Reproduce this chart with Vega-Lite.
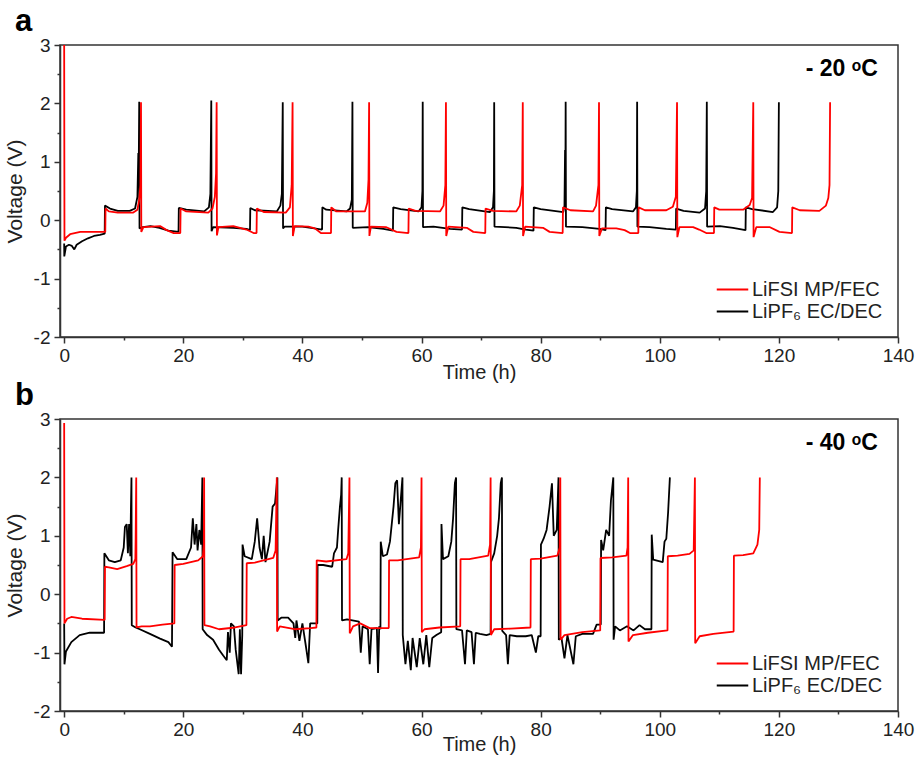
{
  "$schema": "https://vega.github.io/schema/vega-lite/v6.json",
  "padding": {"left": 3, "top": 5, "right": 5, "bottom": 2},
  "config": {
    "font": "Liberation Sans",
    "view": {"stroke": "#333", "strokeWidth": 1.5},
    "axis": {"grid": false, "domainColor": "#333", "domainWidth": 1.5, "tickColor": "#333", "tickWidth": 1.5, "labelColor": "#222", "titleColor": "#222", "labelFontSize": 19, "titleFontSize": 20, "titleFontWeight": "normal"},
    "legend": {"labelFontSize": 20, "labelColor": "#222"}
  },
  "datasets": {
    "aK": [{"t":0,"v":-0.4},{"t":0.02,"v":-0.62},{"t":0.3,"v":-0.45},{"t":0.8,"v":-0.42},{"t":1.3,"v":-0.44},{"t":1.7,"v":-0.5},{"t":2.1,"v":-0.42},{"t":3.0,"v":-0.36},{"t":4.0,"v":-0.31},{"t":5.0,"v":-0.27},{"t":6.0,"v":-0.25},{"t":6.8,"v":-0.23},
      {"t":6.85,"v":0.25},{"t":7.7,"v":0.2},{"t":9.0,"v":0.16},{"t":11.0,"v":0.16},{"t":11.9,"v":0.2},{"t":12.3,"v":0.4},{"t":12.45,"v":1.15},{"t":12.5,"v":0.6},{"t":12.6,"v":2.03},
      {"t":12.65,"v":-0.14},{"t":13.2,"v":-0.12},{"t":14.5,"v":-0.1},{"t":16.0,"v":-0.13},{"t":17.5,"v":-0.18},{"t":19.2,"v":-0.2},
      {"t":19.25,"v":0.21},{"t":20.5,"v":0.18},{"t":23.5,"v":0.15},{"t":24.3,"v":0.22},{"t":24.55,"v":0.45},{"t":24.7,"v":2.05},
      {"t":24.75,"v":-0.19},{"t":25.0,"v":-0.12},{"t":28.4,"v":-0.13},{"t":30.6,"v":-0.15},{"t":31.2,"v":-0.17},
      {"t":31.25,"v":0.21},{"t":32.0,"v":0.17},{"t":35.7,"v":0.15},{"t":36.3,"v":0.25},{"t":36.55,"v":0.45},{"t":36.7,"v":2.02},
      {"t":36.75,"v":-0.14},{"t":37.0,"v":-0.11},{"t":40.0,"v":-0.11},{"t":42.0,"v":-0.14},{"t":43.3,"v":-0.16},
      {"t":43.35,"v":0.22},{"t":44.0,"v":0.18},{"t":47.4,"v":0.15},{"t":48.0,"v":0.2},{"t":48.3,"v":0.35},{"t":48.4,"v":2.03},
      {"t":48.45,"v":-0.13},{"t":51.0,"v":-0.12},{"t":53.6,"v":-0.15},{"t":55.2,"v":-0.18},
      {"t":55.25,"v":0.22},{"t":56.5,"v":0.19},{"t":59.5,"v":0.15},{"t":60.0,"v":0.22},{"t":60.15,"v":0.5},{"t":60.2,"v":2.03},
      {"t":60.25,"v":-0.12},{"t":62.0,"v":-0.11},{"t":64.8,"v":-0.15},{"t":66.8,"v":-0.16},
      {"t":66.85,"v":0.22},{"t":68.0,"v":0.19},{"t":71.5,"v":0.14},{"t":72.0,"v":0.22},{"t":72.15,"v":0.5},{"t":72.2,"v":2.02},
      {"t":72.25,"v":-0.11},{"t":75.9,"v":-0.13},{"t":77.5,"v":-0.16},{"t":78.8,"v":-0.18},
      {"t":78.85,"v":0.22},{"t":80.0,"v":0.19},{"t":83.8,"v":0.14},{"t":84.0,"v":0.25},{"t":84.1,"v":1.2},{"t":84.15,"v":0.5},{"t":84.2,"v":2.03},
      {"t":84.25,"v":-0.11},{"t":87.0,"v":-0.12},{"t":89.9,"v":-0.15},{"t":90.9,"v":-0.17},
      {"t":90.95,"v":0.22},{"t":92.0,"v":0.19},{"t":95.5,"v":0.15},{"t":96.0,"v":0.22},{"t":96.15,"v":0.5},{"t":96.2,"v":2.03},
      {"t":96.25,"v":-0.11},{"t":98.3,"v":-0.12},{"t":101.1,"v":-0.15},{"t":102.7,"v":-0.16},
      {"t":102.75,"v":0.2},{"t":104.0,"v":0.16},{"t":106.7,"v":0.13},{"t":107.6,"v":0.2},{"t":107.8,"v":0.5},{"t":107.9,"v":2.03},
      {"t":107.95,"v":-0.11},{"t":110.1,"v":-0.1},{"t":112.3,"v":-0.13},{"t":114.4,"v":-0.17},
      {"t":114.45,"v":0.22},{"t":115.5,"v":0.19},{"t":119.0,"v":0.14},{"t":119.7,"v":0.22},{"t":119.9,"v":0.5},{"t":120.0,"v":2.02}],
    "aR": [{"t":0,"v":3.0},{"t":0.05,"v":-0.35},{"t":0.3,"v":-0.3},{"t":1.0,"v":-0.24},{"t":2.7,"v":-0.2},{"t":5.0,"v":-0.2},{"t":6.9,"v":-0.2},
      {"t":6.95,"v":0.2},{"t":7.5,"v":0.15},{"t":9.0,"v":0.13},{"t":11.6,"v":0.13},{"t":12.3,"v":0.18},{"t":12.6,"v":0.35},{"t":12.8,"v":0.6},{"t":12.9,"v":2.02},
      {"t":12.95,"v":-0.2},{"t":13.3,"v":-0.12},{"t":16.1,"v":-0.1},{"t":17.2,"v":-0.17},{"t":18.4,"v":-0.22},{"t":19.5,"v":-0.22},
      {"t":19.55,"v":0.2},{"t":20.5,"v":0.15},{"t":24.2,"v":0.13},{"t":24.9,"v":0.2},{"t":25.3,"v":0.4},{"t":25.5,"v":0.8},{"t":25.6,"v":2.02},
      {"t":25.65,"v":-0.26},{"t":25.9,"v":-0.12},{"t":28.4,"v":-0.1},{"t":30.6,"v":-0.16},{"t":31.8,"v":-0.22},{"t":32.3,"v":-0.22},
      {"t":32.35,"v":0.2},{"t":33.5,"v":0.14},{"t":37.2,"v":0.13},{"t":37.9,"v":0.22},{"t":38.2,"v":0.6},{"t":38.35,"v":2.02},
      {"t":38.4,"v":-0.27},{"t":38.7,"v":-0.1},{"t":41.0,"v":-0.11},{"t":42.1,"v":-0.14},{"t":43.1,"v":-0.22},{"t":44.8,"v":-0.22},
      {"t":44.85,"v":0.22},{"t":45.7,"v":0.15},{"t":50.5,"v":0.15},{"t":50.9,"v":0.3},{"t":51.1,"v":0.7},{"t":51.2,"v":2.02},
      {"t":51.25,"v":-0.27},{"t":51.5,"v":-0.11},{"t":54.1,"v":-0.12},{"t":55.8,"v":-0.2},{"t":57.8,"v":-0.22},
      {"t":57.85,"v":0.2},{"t":59.0,"v":0.16},{"t":63.1,"v":0.15},{"t":63.7,"v":0.25},{"t":64.0,"v":0.6},{"t":64.1,"v":2.02},
      {"t":64.15,"v":-0.27},{"t":64.5,"v":-0.11},{"t":67.6,"v":-0.13},{"t":68.7,"v":-0.2},{"t":70.7,"v":-0.22},
      {"t":70.75,"v":0.2},{"t":72.0,"v":0.16},{"t":75.9,"v":0.15},{"t":76.5,"v":0.25},{"t":76.9,"v":0.6},{"t":77.0,"v":2.02},
      {"t":77.05,"v":-0.27},{"t":77.4,"v":-0.11},{"t":80.4,"v":-0.13},{"t":81.5,"v":-0.2},{"t":83.7,"v":-0.22},
      {"t":83.75,"v":0.22},{"t":85.0,"v":0.17},{"t":88.8,"v":0.15},{"t":89.3,"v":0.25},{"t":89.7,"v":0.6},{"t":89.8,"v":2.02},
      {"t":89.85,"v":-0.27},{"t":90.3,"v":-0.14},{"t":92.7,"v":-0.14},{"t":94.1,"v":-0.17},{"t":95.0,"v":-0.22},{"t":96.4,"v":-0.22},
      {"t":96.45,"v":0.22},{"t":97.5,"v":0.17},{"t":101.1,"v":0.17},{"t":102.2,"v":0.23},{"t":102.7,"v":0.4},{"t":102.9,"v":2.02},
      {"t":102.95,"v":-0.29},{"t":103.3,"v":-0.12},{"t":105.6,"v":-0.12},{"t":106.6,"v":-0.16},{"t":107.8,"v":-0.22},{"t":109.1,"v":-0.22},
      {"t":109.15,"v":0.22},{"t":110.0,"v":0.18},{"t":114.0,"v":0.18},{"t":115.1,"v":0.26},{"t":115.5,"v":0.38},{"t":115.7,"v":2.02},
      {"t":115.75,"v":-0.29},{"t":116.2,"v":-0.12},{"t":118.5,"v":-0.12},{"t":120.1,"v":-0.2},{"t":122.2,"v":-0.22},
      {"t":122.25,"v":0.22},{"t":123.5,"v":0.17},{"t":126.8,"v":0.16},{"t":127.9,"v":0.25},{"t":128.3,"v":0.38},{"t":128.5,"v":0.6},{"t":128.6,"v":2.02}],
    "bR": [{"t":0,"v":2.93},{"t":0.05,"v":-0.5},{"t":0.5,"v":-0.42},{"t":1.2,"v":-0.39},{"t":3.0,"v":-0.42},{"t":6.8,"v":-0.44},
      {"t":6.85,"v":0.47},{"t":7.5,"v":0.46},{"t":8.9,"v":0.43},{"t":10.5,"v":0.48},{"t":11.6,"v":0.52},{"t":11.95,"v":0.6},{"t":12.0,"v":0.95},{"t":12.1,"v":2.0},
      {"t":12.15,"v":-0.57},{"t":13.0,"v":-0.55},{"t":14.4,"v":-0.55},{"t":16.5,"v":-0.52},{"t":18.5,"v":-0.5},
      {"t":18.55,"v":0.5},{"t":20.0,"v":0.52},{"t":22.5,"v":0.58},{"t":23.3,"v":0.65},{"t":23.45,"v":0.85},{"t":23.5,"v":2.0},
      {"t":23.55,"v":-0.53},{"t":24.5,"v":-0.55},{"t":26.0,"v":-0.6},{"t":28.7,"v":-0.57},{"t":30.6,"v":-0.53},
      {"t":30.65,"v":0.53},{"t":32.0,"v":0.54},{"t":35.1,"v":0.62},{"t":35.5,"v":0.75},{"t":35.7,"v":2.0},
      {"t":35.75,"v":-0.64},{"t":36.2,"v":-0.55},{"t":38.7,"v":-0.6},{"t":41.4,"v":-0.58},{"t":42.35,"v":-0.57},
      {"t":42.4,"v":0.58},{"t":44.0,"v":0.56},{"t":47.4,"v":0.6},{"t":47.7,"v":0.7},{"t":47.9,"v":2.0},
      {"t":47.95,"v":-0.67},{"t":48.5,"v":-0.55},{"t":49.7,"v":-0.5},{"t":51.3,"v":-0.58},{"t":54.5,"v":-0.58},
      {"t":54.55,"v":0.58},{"t":56.0,"v":0.58},{"t":59.6,"v":0.63},{"t":59.9,"v":0.8},{"t":60.0,"v":2.0},
      {"t":60.05,"v":-0.65},{"t":60.5,"v":-0.6},{"t":63.0,"v":-0.57},{"t":66.5,"v":-0.55},
      {"t":66.55,"v":0.6},{"t":68.0,"v":0.6},{"t":71.2,"v":0.66},{"t":71.5,"v":0.85},{"t":71.6,"v":2.0},
      {"t":71.65,"v":-0.7},{"t":72.2,"v":-0.6},{"t":75.0,"v":-0.59},{"t":78.3,"v":-0.57},
      {"t":78.35,"v":0.6},{"t":80.0,"v":0.61},{"t":82.8,"v":0.66},{"t":83.2,"v":0.8},{"t":83.3,"v":2.0},
      {"t":83.35,"v":-0.78},{"t":84.0,"v":-0.7},{"t":87.0,"v":-0.65},{"t":90.0,"v":-0.62},
      {"t":90.05,"v":0.62},{"t":92.0,"v":0.63},{"t":94.4,"v":0.66},{"t":94.6,"v":0.8},{"t":94.7,"v":2.0},
      {"t":94.75,"v":-0.81},{"t":95.5,"v":-0.7},{"t":98.0,"v":-0.66},{"t":101.3,"v":-0.62},
      {"t":101.35,"v":0.65},{"t":103.0,"v":0.66},{"t":105.0,"v":0.69},{"t":105.7,"v":0.75},{"t":105.9,"v":2.0},
      {"t":105.95,"v":-0.84},{"t":106.7,"v":-0.72},{"t":109.0,"v":-0.68},{"t":112.4,"v":-0.64},
      {"t":112.45,"v":0.66},{"t":114.0,"v":0.67},{"t":115.7,"v":0.7},{"t":116.4,"v":0.85},{"t":116.7,"v":1.1},{"t":116.8,"v":2.0}],
    "bK": [{"t":0,"v":-0.5},{"t":0.05,"v":-1.2},{"t":0.3,"v":-0.98},{"t":1.2,"v":-0.82},{"t":2.6,"v":-0.7},{"t":4.3,"v":-0.66},{"t":6.7,"v":-0.66},
      {"t":6.75,"v":0.7},{"t":7.5,"v":0.58},{"t":8.5,"v":0.55},{"t":9.5,"v":0.58},{"t":10.0,"v":0.8},{"t":10.2,"v":1.15},{"t":10.5,"v":1.2},{"t":10.7,"v":0.7},{"t":10.9,"v":1.2},{"t":11.0,"v":1.05},{"t":11.1,"v":0.65},{"t":11.2,"v":1.4},{"t":11.3,"v":2.0},
      {"t":11.35,"v":-0.53},{"t":12.0,"v":-0.57},{"t":12.7,"v":-0.6},{"t":14.4,"v":-0.68},{"t":16.1,"v":-0.76},{"t":17.5,"v":-0.82},{"t":18.1,"v":-0.9},
      {"t":18.2,"v":0.72},{"t":19.0,"v":0.6},{"t":20.5,"v":0.6},{"t":21.3,"v":0.8},{"t":21.6,"v":1.3},{"t":21.9,"v":0.85},{"t":22.2,"v":1.2},{"t":22.4,"v":0.75},{"t":22.7,"v":1.1},{"t":23.0,"v":0.85},{"t":23.2,"v":2.0},
      {"t":23.25,"v":-0.6},{"t":24.0,"v":-0.7},{"t":25.0,"v":-0.78},{"t":26.0,"v":-0.95},{"t":26.7,"v":-1.05},{"t":27.3,"v":-1.13},{"t":27.5,"v":-0.65},{"t":27.8,"v":-1.0},{"t":28.0,"v":-0.5},{"t":28.5,"v":-0.55},{"t":28.8,"v":-0.95},{"t":29.3,"v":-1.37},{"t":29.5,"v":-0.6},{"t":29.7,"v":-1.37},{"t":29.9,"v":-0.7},
      {"t":29.95,"v":0.85},{"t":30.3,"v":0.65},{"t":31.5,"v":0.6},{"t":32.0,"v":0.9},{"t":32.4,"v":1.3},{"t":32.8,"v":0.8},{"t":33.2,"v":0.6},{"t":33.5,"v":1.0},{"t":33.8,"v":0.55},{"t":34.5,"v":0.9},{"t":35.0,"v":1.5},{"t":35.4,"v":1.55},{"t":35.8,"v":2.0},
      {"t":35.85,"v":-0.45},{"t":36.5,"v":-0.4},{"t":37.6,"v":-0.4},{"t":38.5,"v":-0.5},{"t":38.8,"v":-0.75},{"t":39.0,"v":-0.45},{"t":39.5,"v":-0.8},{"t":40.0,"v":-0.5},{"t":40.6,"v":-0.9},{"t":41.0,"v":-1.18},{"t":41.3,"v":-0.5},{"t":42.5,"v":-0.5},
      {"t":42.55,"v":0.5},{"t":43.5,"v":0.5},{"t":45.0,"v":0.47},{"t":45.3,"v":0.7},{"t":45.8,"v":0.8},{"t":46.0,"v":1.1},{"t":46.3,"v":1.5},{"t":46.5,"v":1.7},{"t":46.6,"v":2.0},
      {"t":46.65,"v":-0.45},{"t":47.5,"v":-0.43},{"t":49.5,"v":-0.47},{"t":49.8,"v":-1.0},{"t":50.1,"v":-0.55},{"t":51.0,"v":-0.6},{"t":51.3,"v":-1.2},{"t":51.6,"v":-0.6},{"t":52.5,"v":-0.58},{"t":52.7,"v":-1.35},{"t":52.9,"v":-0.55},{"t":53.1,"v":-0.6},
      {"t":53.15,"v":0.9},{"t":53.5,"v":0.65},{"t":54.2,"v":0.68},{"t":54.7,"v":0.9},{"t":55.0,"v":1.2},{"t":55.3,"v":1.5},{"t":55.6,"v":1.9},{"t":55.9,"v":1.95},{"t":56.2,"v":1.2},{"t":56.5,"v":1.6},{"t":56.8,"v":2.0},
      {"t":56.85,"v":-0.7},{"t":57.3,"v":-1.2},{"t":57.7,"v":-0.8},{"t":58.2,"v":-1.3},{"t":58.5,"v":-0.75},{"t":59.2,"v":-1.25},{"t":59.7,"v":-0.75},{"t":60.3,"v":-1.2},{"t":60.8,"v":-0.7},{"t":61.3,"v":-1.25},{"t":61.8,"v":-0.75},{"t":62.5,"v":-0.7},{"t":63.3,"v":-0.65},
      {"t":63.35,"v":1.2},{"t":63.6,"v":0.6},{"t":64.5,"v":0.65},{"t":65.0,"v":0.9},{"t":65.3,"v":1.3},{"t":65.6,"v":1.9},{"t":65.8,"v":2.0},
      {"t":65.85,"v":-0.6},{"t":66.8,"v":-0.62},{"t":67.3,"v":-1.2},{"t":67.6,"v":-0.62},{"t":68.4,"v":-0.65},{"t":68.8,"v":-1.2},{"t":69.1,"v":-0.66},{"t":69.8,"v":-0.68},{"t":70.9,"v":-0.7},{"t":71.6,"v":-0.68},
      {"t":71.65,"v":0.55},{"t":72.2,"v":0.7},{"t":72.7,"v":1.0},{"t":73.0,"v":1.3},{"t":73.3,"v":1.9},{"t":73.5,"v":2.0},
      {"t":73.55,"v":-0.63},{"t":74.2,"v":-0.7},{"t":74.5,"v":-1.2},{"t":74.8,"v":-0.7},{"t":76.0,"v":-0.72},{"t":77.5,"v":-0.72},{"t":78.5,"v":-0.7},{"t":79.2,"v":-1.0},{"t":79.6,"v":-0.72},{"t":80.0,"v":-0.72},
      {"t":80.05,"v":0.85},{"t":80.5,"v":0.95},{"t":81.0,"v":1.1},{"t":81.5,"v":1.5},{"t":81.9,"v":1.9},{"t":82.2,"v":1.0},{"t":82.7,"v":1.1},{"t":83.0,"v":2.0},
      {"t":83.05,"v":-0.78},{"t":83.5,"v":-0.75},{"t":84.0,"v":-1.1},{"t":84.5,"v":-0.7},{"t":85.5,"v":-1.2},{"t":85.9,"v":-0.72},{"t":87.0,"v":-0.68},{"t":88.8,"v":-0.68},{"t":89.4,"v":-0.52},{"t":90.1,"v":-0.52},
      {"t":90.15,"v":0.93},{"t":90.5,"v":0.75},{"t":91.0,"v":1.1},{"t":91.5,"v":1.0},{"t":91.8,"v":1.6},{"t":92.2,"v":2.0},
      {"t":92.25,"v":-0.78},{"t":92.5,"v":-0.55},{"t":93.3,"v":-0.62},{"t":94.5,"v":-0.55},{"t":95.6,"v":-0.62},{"t":96.6,"v":-0.53},{"t":97.5,"v":-0.6},{"t":98.6,"v":-0.6},
      {"t":98.65,"v":1.02},{"t":98.9,"v":0.59},{"t":100.5,"v":0.55},{"t":100.8,"v":0.9},{"t":101.1,"v":0.95},{"t":101.4,"v":1.4},{"t":101.7,"v":2.0}]
  },
  "resolve": {"scale": {"color": "independent"}},
  "spacing": -4,
  "vconcat": [
    {
      "title": {"text": "a", "anchor": "start", "frame": "group", "fontSize": 31, "fontWeight": "bold", "color": "#000", "dx": -45, "offset": -2},
      "width": 838, "height": 292,
      "resolve": {"axis": {"x": "independent", "y": "independent"}},
      "layer": [
        {"data": {"name": "aK"}, "mark": {"type": "line", "strokeWidth": 1.8, "strokeJoin": "bevel"},
         "encoding": {
           "x": {"field": "t", "type": "quantitative", "scale": {"domain": [-0.7, 140], "nice": false, "zero": false},
                 "axis": {"values": [0,20,40,60,80,100,120,140], "tickSize": 6, "labelPadding": 3, "labelFlush": false, "title": "Time (h)", "titlePadding": -3}},
           "y": {"field": "v", "type": "quantitative", "scale": {"domain": [-2, 3], "nice": false, "zero": false},
                 "axis": {"values": [-2,-1,0,1,2,3], "tickSize": 6, "labelPadding": 4, "labelFlush": false, "labelExpr": "datum.value < 0 ? '-' + abs(datum.value) : '' + datum.value", "title": "Voltage (V)", "titleFontSize": 21, "titlePadding": 8}},
           "color": {"datum": "LiPF₆ EC/DEC", "type": "nominal", "scale": {"domain": ["LiFSI MP/FEC", "LiPF₆ EC/DEC"], "range": ["#ff0000", "#000000"]},
                     "legend": {"orient": "bottom-right", "offset": 15, "title": null, "symbolType": "M-1.5,0H1.5", "symbolSize": 441, "symbolStrokeWidth": 2, "rowPadding": 0, "labelOffset": 8, "padding": 0}}
         }},
        {"data": {"name": "aR"}, "mark": {"type": "line", "strokeWidth": 1.8, "strokeJoin": "bevel"},
         "encoding": {
           "x": {"field": "t", "type": "quantitative", "axis": {"orient": "bottom", "values": [10,30,50,70,90,110,130], "labels": false, "tickSize": 3, "domain": false, "title": null}},
           "y": {"field": "v", "type": "quantitative", "axis": {"orient": "left", "values": [-1.5,-0.5,0.5,1.5,2.5], "labels": false, "tickSize": 3, "domain": false, "title": null}},
           "color": {"datum": "LiFSI MP/FEC", "type": "nominal"}
         }},
        {"data": {"values": [{}]}, "mark": {"type": "text", "align": "right", "baseline": "alphabetic", "fontSize": 23, "fontWeight": "bold", "color": "#000"},
         "encoding": {
           "x": {"datum": 136.6, "type": "quantitative", "axis": null},
           "y": {"datum": 2.47, "type": "quantitative", "axis": null},
           "text": {"value": "- 20 ᵒC"}
         }}
      ]
    },
    {
      "title": {"text": "b", "anchor": "start", "frame": "group", "fontSize": 31, "fontWeight": "bold", "color": "#000", "dx": -45, "offset": -2},
      "width": 838, "height": 292,
      "resolve": {"axis": {"x": "independent", "y": "independent"}},
      "layer": [
        {"data": {"name": "bK"}, "mark": {"type": "line", "strokeWidth": 1.8, "strokeJoin": "bevel"},
         "encoding": {
           "x": {"field": "t", "type": "quantitative", "scale": {"domain": [-0.7, 140], "nice": false, "zero": false},
                 "axis": {"values": [0,20,40,60,80,100,120,140], "tickSize": 6, "labelPadding": 3, "labelFlush": false, "title": "Time (h)", "titlePadding": -5}},
           "y": {"field": "v", "type": "quantitative", "scale": {"domain": [-2, 3], "nice": false, "zero": false},
                 "axis": {"values": [-2,-1,0,1,2,3], "tickSize": 6, "labelPadding": 4, "labelFlush": false, "labelExpr": "datum.value < 0 ? '-' + abs(datum.value) : '' + datum.value", "title": "Voltage (V)", "titleFontSize": 21, "titlePadding": 8}},
           "color": {"datum": "LiPF₆ EC/DEC", "type": "nominal", "scale": {"domain": ["LiFSI MP/FEC", "LiPF₆ EC/DEC"], "range": ["#ff0000", "#000000"]},
                     "legend": {"orient": "bottom-right", "offset": 15, "title": null, "symbolType": "M-1.5,0H1.5", "symbolSize": 441, "symbolStrokeWidth": 2, "rowPadding": 0, "labelOffset": 8, "padding": 0}}
         }},
        {"data": {"name": "bR"}, "mark": {"type": "line", "strokeWidth": 1.8, "strokeJoin": "bevel"},
         "encoding": {
           "x": {"field": "t", "type": "quantitative", "axis": {"orient": "bottom", "values": [10,30,50,70,90,110,130], "labels": false, "tickSize": 3, "domain": false, "title": null}},
           "y": {"field": "v", "type": "quantitative", "axis": {"orient": "left", "values": [-1.5,-0.5,0.5,1.5,2.5], "labels": false, "tickSize": 3, "domain": false, "title": null}},
           "color": {"datum": "LiFSI MP/FEC", "type": "nominal"}
         }},
        {"data": {"values": [{}]}, "mark": {"type": "text", "align": "right", "baseline": "alphabetic", "fontSize": 23, "fontWeight": "bold", "color": "#000"},
         "encoding": {
           "x": {"datum": 136.6, "type": "quantitative", "axis": null},
           "y": {"datum": 2.47, "type": "quantitative", "axis": null},
           "text": {"value": "- 40 ᵒC"}
         }}
      ]
    }
  ]
}
